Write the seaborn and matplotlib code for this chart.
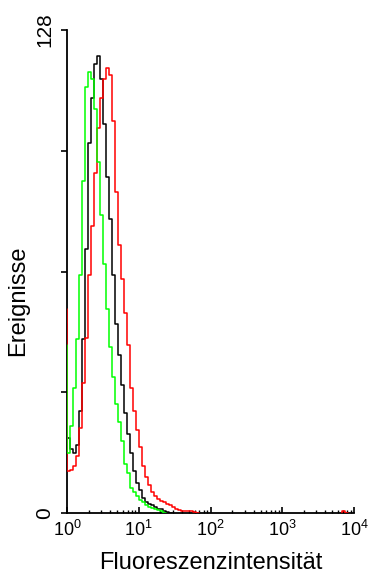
import numpy as np
import pandas as pd
import matplotlib
matplotlib.use("Agg")
import matplotlib.pyplot as plt
import seaborn as sns
from matplotlib.ticker import FixedLocator, LogLocator, NullFormatter

sns.set_style("ticks")
plt.rcParams['font.family'] = ['Liberation Sans', 'DejaVu Sans']
plt.rcParams['mathtext.fontset'] = 'custom'
plt.rcParams['mathtext.rm'] = 'Liberation Sans'
plt.rcParams['mathtext.it'] = 'Liberation Sans:italic'
plt.rcParams['mathtext.bf'] = 'Liberation Sans:bold'

# ---------------- data (counts per channel) ----------------
black_counts = [50, 20, 17, 16, 18, 27, 46, 70, 98, 110, 119, 121, 115, 103, 89, 78,
                63, 50, 42, 34, 26.5, 21, 16, 11, 8, 6, 4, 3, 2.5, 2, 1.5, 1, 1,
                0.5, 0.3, 0]
red_counts = [54, 11, 11.5, 12.5, 15, 22.5, 34.5, 46.5, 63, 76, 90, 102, 110, 115,
              118, 116, 104, 85, 71, 62, 53, 44.5, 33, 27, 22, 17.5, 12.5, 9.5, 7.5,
              5.5, 4.5, 3.8, 3.2, 2.8, 2.5, 2, 1.5, 1, 0.7, 0.5, 0.5, 0.5, 0.5, 0.3, 0]
green_counts = [44.5, 16, 23, 33, 46, 63, 88, 113, 117, 115, 107, 93, 79, 66, 54, 44,
                36, 29, 24, 19, 13, 10.5, 6.5, 5.5, 4.5, 3.4, 2.8, 2.2, 1.7, 1.3, 1,
                0.7, 0.4, 0]
red_far_channels = [92, 93, 94]
red_far_counts = [0, 0.6, 0]

sample_names = ["Kontrolle", "Probe A", "Probe B"]
sample_colors = ["#000000", "#ff0000", "#00ff00"]

x_tick_values = [1, 10, 100, 1000, 10000]
x_tick_labels = [r"$10^{0}$", r"$10^{1}$", r"$10^{2}$", r"$10^{3}$", r"$10^{4}$"]
y_tick_values = [0, 32, 64, 96, 128]
y_tick_labels = ["0", "", "", "", "128"]
x_label = "Fluoreszenzintensität"
y_label = "Ereignisse"

decades = 4
channels_total = 96


def to_fl(ch):
    return 10 ** (np.asarray(ch, dtype=float) * decades / channels_total)


frames = []
for name, counts in zip(sample_names, [black_counts, red_counts, green_counts]):
    ch = np.arange(len(counts))
    frames.append(pd.DataFrame({"fl": to_fl(ch), "count": counts, "sample": name}))
df = pd.concat(frames, ignore_index=True)
df_far = pd.DataFrame({"fl": to_fl(red_far_channels), "count": red_far_counts})

# ---------------- figure ----------------
W, H = 377, 578
fig = plt.figure(figsize=(W / 100, H / 100), dpi=100)
ax = fig.add_axes([67 / W, (H - 513) / H, 287 / W, 483 / H])

sns.lineplot(data=df, x="fl", y="count", hue="sample", hue_order=sample_names,
             palette=sample_colors, estimator=None, sort=False, legend=False,
             drawstyle="steps-pre", linewidth=1.1, ax=ax, zorder=3)
sns.lineplot(data=df_far, x="fl", y="count", color="#ff0000", estimator=None,
             sort=False, legend=False, drawstyle="steps-pre", linewidth=1.1,
             ax=ax, zorder=3)

ax.set_xscale("log")
ax.set_xlim(1, 10000)
ax.set_ylim(0, 128)

for s in ["top", "right"]:
    ax.spines[s].set_visible(False)
for s in ["left", "bottom"]:
    ax.spines[s].set_linewidth(1.3)
    ax.spines[s].set_color("black")

ax.xaxis.set_major_locator(FixedLocator(x_tick_values))
ax.set_xticklabels(x_tick_labels)
ax.xaxis.set_minor_locator(LogLocator(base=10, subs=np.arange(2, 10)))
ax.xaxis.set_minor_formatter(NullFormatter())
ax.tick_params(axis="x", which="major", direction="in", length=4, width=1.2,
               labelsize=13, pad=5, colors="black")
ax.tick_params(axis="x", which="minor", direction="in", length=2.5, width=1.0,
               colors="black")

ax.set_yticks(y_tick_values)
ax.set_yticklabels(y_tick_labels, rotation=90, va="center")
ax.tick_params(axis="y", which="major", direction="out", length=4, width=1.2,
               labelsize=15, pad=5, colors="black")

ax.set_xlabel(x_label, fontsize=17, color="black")
ax.set_ylabel(y_label, fontsize=17, color="black")
ax.xaxis.set_label_coords(0.5, (513 - 552) / 483)
ax.yaxis.set_label_coords((29 - 67) / 287, (513 - 301) / 483)

fig.savefig("out.png", dpi=100, facecolor="white")
